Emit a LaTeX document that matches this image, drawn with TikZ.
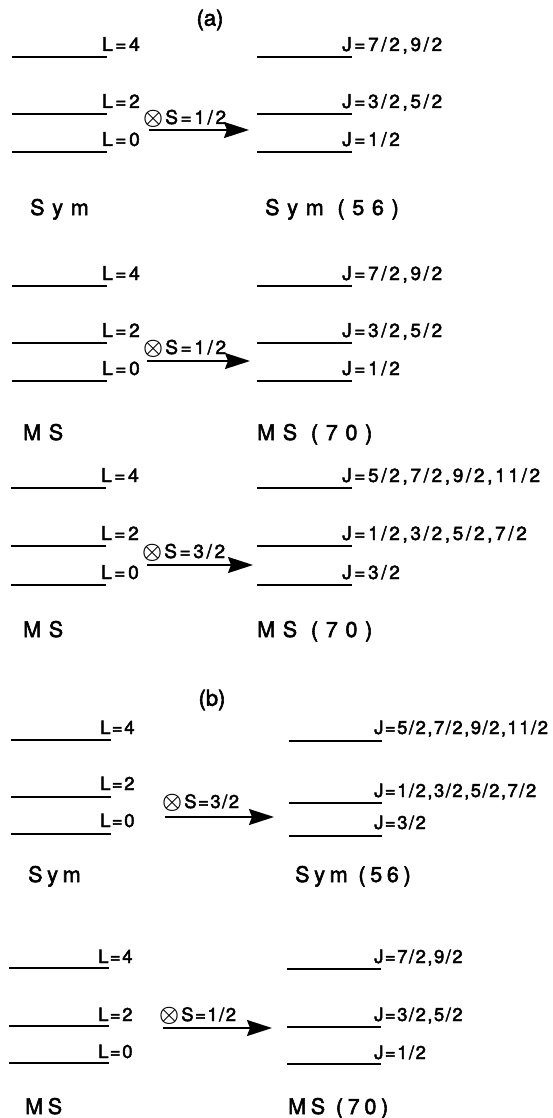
\documentclass[tikz,border=0pt]{standalone}
\usepackage{fontspec}
\usetikzlibrary{arrows.meta}
\newfontfamily\labfA{TeX Gyre Heros}[LetterSpace=14,FakeBold=2.5]
\newfontfamily\labfB{TeX Gyre Heros}[LetterSpace=8,FakeBold=2.5]
\newfontfamily\bigfA{TeX Gyre Heros}[LetterSpace=36,FakeBold=2.5]
\newfontfamily\bigfB{TeX Gyre Heros}[LetterSpace=22,FakeBold=2.5]
\newfontfamily\capf{TeX Gyre Heros}[FakeBold=2.5]
\newcommand{\otm}{\raisebox{-0.5pt}{\scalebox{1.3}{\boldmath$\otimes$}}\kern2pt}
\begin{document}
\begin{tikzpicture}[x=1pt,y=-1pt,
  level/.style={line width=1.8pt},
  labA/.style={anchor=base west, inner sep=0pt, font=\fontsize{19}{21}\selectfont\labfA},
  labB/.style={anchor=base west, inner sep=0pt, font=\fontsize{18.5}{20}\selectfont\labfB},
  bigA/.style={anchor=base west, inner sep=0pt, font=\fontsize{21.5}{24}\selectfont\bigfA},
  bigB/.style={anchor=base west, inner sep=0pt, font=\fontsize{21.5}{24}\selectfont\bigfB},
  captxt/.style={inner sep=0pt, font=\fontsize{22}{24}\selectfont\capf},
  trans/.style={line width=2pt, -{Stealth[length=25pt,width=16pt,inset=3pt]}},
]
\useasboundingbox (0,0) rectangle (552,1118);

%% ---------- (a) ----------
\node[captxt] (capa) at (210,20) {(a)};

% block A1 : Sym -> Sym (56), S=1/2
\draw[level] (12,57) -- (107,57);
\draw[level] (12,114) -- (107,114);
\draw[level] (12,152) -- (107,152);
\draw[level] (257,57) -- (352,57);
\draw[level] (257,114) -- (352,114);
\draw[level] (257,152) -- (352,152);
\node[labA] (a1l4) at (102,51) {L=4};
\node[labA] (a1l2) at (102,108) {L=2};
\node[labA] (a1l0) at (102,146) {L=0};
\node[labA] (a1j4) at (342,51) {J=7/2,9/2};
\node[labA] (a1j2) at (342,108) {J=3/2,5/2};
\node[labA] (a1j0) at (342,146) {J=1/2};
\node[labA] (a1s) at (143,124) {\otm S=1/2};
\coordinate (a1from) at (149,130);
\coordinate (a1to) at (249,130);
\draw[trans] (a1from) -- (a1to);
\node[bigA] (a1n) at (30,215) {Sym};
\node[bigA] (a1m) at (265,215) {Sym (56)};

% block A2 : MS -> MS (70), S=1/2
\draw[level] (12,286) -- (107,286);
\draw[level] (12,343) -- (107,343);
\draw[level] (12,381) -- (107,381);
\draw[level] (257,286) -- (352,286);
\draw[level] (257,343) -- (352,343);
\draw[level] (257,381) -- (352,381);
\node[labA] (a2l4) at (102,280) {L=4};
\node[labA] (a2l2) at (102,337) {L=2};
\node[labA] (a2l0) at (102,375) {L=0};
\node[labA] (a2j4) at (342,280) {J=7/2,9/2};
\node[labA] (a2j2) at (342,337) {J=3/2,5/2};
\node[labA] (a2j0) at (342,375) {J=1/2};
\node[labA] (a2s) at (143,354) {\otm S=1/2};
\coordinate (a2from) at (147,361);
\coordinate (a2to) at (250,361);
\draw[trans] (a2from) -- (a2to);
\node[bigA] (a2n) at (23,440) {MS};
\node[bigA] (a2m) at (257,440) {MS (70)};

% block A3 : MS -> MS (70), S=3/2
\draw[level] (11,488) -- (106,488);
\draw[level] (11,546) -- (106,546);
\draw[level] (11,585) -- (106,585);
\draw[level] (257,488) -- (352,488);
\draw[level] (257,546) -- (352,546);
\draw[level] (257,585) -- (352,585);
\node[labA] (a3l4) at (101,482) {L=4};
\node[labA] (a3l2) at (101,540) {L=2};
\node[labA] (a3l0) at (101,579) {L=0};
\node[labA] (a3j4) at (342,482) {J=5/2,7/2,9/2,11/2};
\node[labA] (a3j2) at (342,540) {J=1/2,3/2,5/2,7/2};
\node[labA] (a3j0) at (342,579) {J=3/2};
\node[labA] (a3s) at (142,558) {\otm S=3/2};
\coordinate (a3from) at (147,565);
\coordinate (a3to) at (253,565);
\draw[trans] (a3from) -- (a3to);
\node[bigA] (a3n) at (23,637) {MS};
\node[bigA] (a3m) at (257,637) {MS (70)};

%% ---------- (b) ----------
\node[captxt] (capb) at (212,700) {(b)};

% block B1 : Sym -> Sym (56), S=3/2
\draw[level] (11,740) -- (111,740);
\draw[level] (11,797) -- (111,797);
\draw[level] (11,834) -- (111,834);
\draw[level] (289,741) -- (382,741);
\draw[level] (289,803) -- (382,803);
\draw[level] (289,836) -- (382,836);
\node[labB] (b1l4) at (100,734) {L=4};
\node[labB] (b1l2) at (100,790) {L=2};
\node[labB] (b1l0) at (100,827) {L=0};
\node[labB] (b1j4) at (374,734) {J=5/2,7/2,9/2,11/2};
\node[labB] (b1j2) at (374,797) {J=1/2,3/2,5/2,7/2};
\node[labB] (b1j0) at (374,829) {J=3/2};
\node[labB] (b1s) at (162,808) {\otm S=3/2};
\coordinate (b1from) at (165,817);
\coordinate (b1to) at (274,817);
\draw[trans] (b1from) -- (b1to);
\node[bigB] (b1n) at (28,882) {Sym};
\node[bigB] (b1m) at (295,882) {Sym (56)};

% block B2 : MS -> MS (70), S=1/2
\draw[level] (9,968) -- (109,968);
\draw[level] (9,1026) -- (109,1026);
\draw[level] (9,1063) -- (109,1063);
\draw[level] (287,969) -- (381,969);
\draw[level] (287,1027) -- (381,1027);
\draw[level] (287,1064) -- (381,1064);
\node[labB] (b2l4) at (98,963) {L=4};
\node[labB] (b2l2) at (98,1021) {L=2};
\node[labB] (b2l0) at (98,1058) {L=0};
\node[labB] (b2j4) at (374,963) {J=7/2,9/2};
\node[labB] (b2j2) at (374,1021) {J=3/2,5/2};
\node[labB] (b2j0) at (374,1059) {J=1/2};
\node[labB] (b2s) at (159,1021) {\otm S=1/2};
\coordinate (b2from) at (163,1028);
\coordinate (b2to) at (272,1028);
\draw[trans] (b2from) -- (b2to);
\node[bigB] (b2n) at (25,1114) {MS};
\node[bigB] (b2m) at (288,1114) {MS (70)};
\end{tikzpicture}
\end{document}
